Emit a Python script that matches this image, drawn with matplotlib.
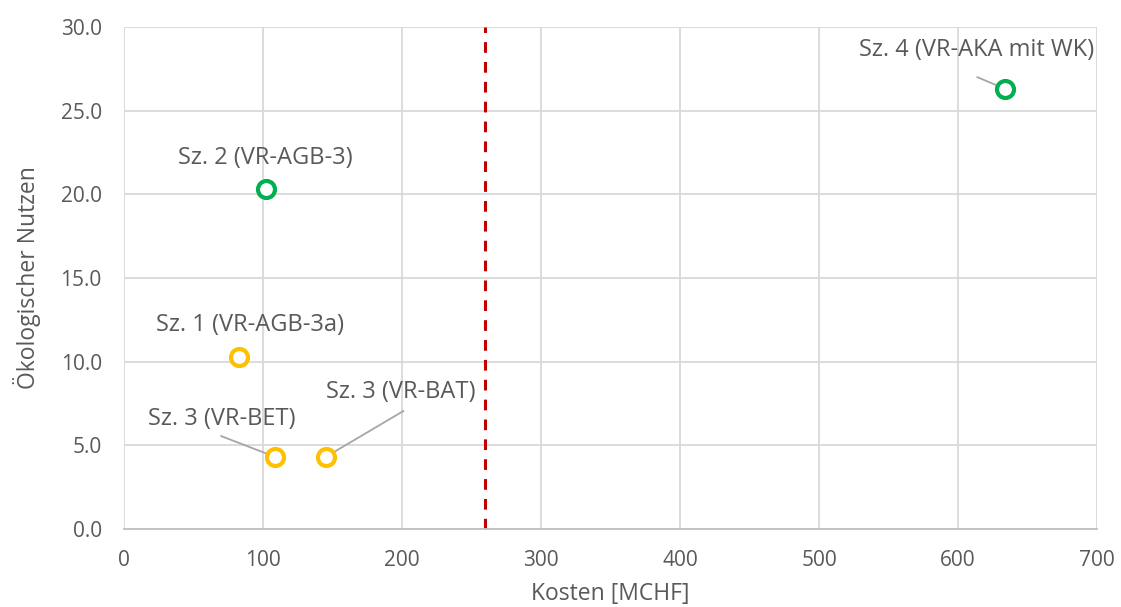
import matplotlib
matplotlib.use("Agg")
import matplotlib.pyplot as plt

plt.rcParams['font.family'] = ['Open Sans', 'DejaVu Sans']

# scenario data
labels = ["Sz. 4 (VR-AKA mit WK)", "Sz. 2 (VR-AGB-3)", "Sz. 1 (VR-AGB-3a)",
          "Sz. 3 (VR-BET)", "Sz. 3 (VR-BAT)"]
kosten = [634, 102, 83, 109, 145]
nutzen = [26.3, 20.3, 10.3, 4.3, 4.3]
colors = ["#00B050", "#00B050", "#FFC000", "#FFC000", "#FFC000"]

# label placement (data coords) and leader start points (None = no leader)
label_pos = [(613, 28.6), (102, 22.2), (91, 12.2), (70, 6.6), (199, 8.2)]
leader_start = [(614, 27.0), None, None, (70, 5.55), (201, 7.05)]

budget_limit = 260

textcol = "#595959"
gridcol = "#D9D9D9"

fig = plt.figure(figsize=(11.21, 6.07), dpi=100)
ax = fig.add_axes([0.1106, 0.1285, 0.868, 0.827])

ax.set_xlim(0, 700)
ax.set_ylim(0, 30)
ax.set_xticks(range(0, 701, 100))
ax.set_yticks(range(0, 31, 5))
ax.set_yticklabels([f"{v:.1f}" for v in range(0, 31, 5)])
ax.grid(True, color=gridcol, linewidth=1.3)
ax.set_axisbelow(True)
for s in ["top", "right", "left"]:
    ax.spines[s].set_visible(False)
ax.spines["bottom"].set_color("#BFBFBF")
ax.spines["bottom"].set_linewidth(1.3)
ax.tick_params(length=0, labelsize=15, colors=textcol)
ax.tick_params(axis="y", pad=16)
ax.tick_params(axis="x", pad=15)

ax.axvline(budget_limit, color="#C00000", linestyle=(0, (3.5, 3)), linewidth=2.2, zorder=2)

for i in range(len(labels)):
    if leader_start[i] is not None:
        ax.plot([leader_start[i][0], kosten[i]], [leader_start[i][1], nutzen[i]],
                color="#A6A6A6", linewidth=1.3, zorder=3)
    ax.scatter(kosten[i], nutzen[i], s=150, facecolor="white", edgecolor=colors[i],
               linewidth=3, zorder=4)
    ax.text(label_pos[i][0], label_pos[i][1], labels[i], ha="center", va="center",
            fontsize=17, color=textcol)

ax.set_xlabel("Kosten [MCHF]", fontsize=16.5, color=textcol, labelpad=8)
ax.set_ylabel("Ökologischer Nutzen", fontsize=16.5, color=textcol, labelpad=14)

fig.savefig("out.png", dpi=100)
